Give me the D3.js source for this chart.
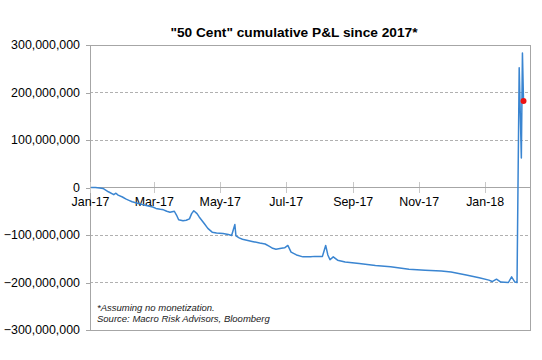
<!DOCTYPE html>
<html>
<head>
<meta charset="utf-8">
<script src="https://cdn.jsdelivr.net/npm/d3@7"></script>
<style>
  html, body { margin: 0; padding: 0; background: #fff; }
  svg { display: block; }
</style>
</head>
<body>
<svg id="chart" width="542" height="360"></svg>
<script>
// ---- data (values in millions of USD) ----
const title = "\"50 Cent\" cumulative P&L since 2017*";
const footnotes = ["*Assuming no monetization.", "Source: Macro Risk Advisors, Bloomberg"];
const dates = [
  "2017-01-02","2017-01-06","2017-01-10","2017-01-13","2017-01-18","2017-01-23","2017-01-25","2017-01-27",
  "2017-01-31","2017-02-03","2017-02-06","2017-02-09","2017-02-14","2017-02-17","2017-02-22","2017-02-28",
  "2017-03-03","2017-03-07","2017-03-10","2017-03-13","2017-03-16","2017-03-20","2017-03-22","2017-03-24",
  "2017-03-28","2017-03-31","2017-04-03","2017-04-05","2017-04-07","2017-04-10","2017-04-12","2017-04-17",
  "2017-04-20","2017-04-24","2017-04-28","2017-05-04","2017-05-09","2017-05-12","2017-05-15","2017-05-16",
  "2017-05-19","2017-05-22","2017-05-26","2017-06-01","2017-06-07","2017-06-12","2017-06-16","2017-06-19",
  "2017-06-22","2017-06-27","2017-06-30","2017-07-03","2017-07-06","2017-07-11","2017-07-17","2017-07-24",
  "2017-07-28","2017-08-04","2017-08-07","2017-08-09","2017-08-11","2017-08-14","2017-08-18","2017-08-25",
  "2017-09-07","2017-09-22","2017-10-06","2017-10-23","2017-11-07","2017-11-22","2017-12-01","2017-12-08",
  "2017-12-15","2017-12-27","2018-01-05","2018-01-08","2018-01-12","2018-01-16","2018-01-23","2018-01-26",
  "2018-01-29","2018-01-31","2018-02-02","2018-02-04","2018-02-05","2018-02-06"
];
const pnl = [
  0, 0, -1, -2, -9, -15, -12, -16,
  -20, -24, -27, -30, -33, -35, -38, -41,
  -44, -46, -47, -50, -52, -50, -58, -68,
  -70, -69, -66, -55, -49, -55, -62, -77,
  -86, -94, -96, -97, -99, -101, -78, -102,
  -106, -109, -111, -114, -117, -119, -124, -128,
  -130, -128, -127, -122, -136, -142, -146, -146,
  -145, -145, -122, -142, -152, -146, -153, -157,
  -160, -164, -167, -172, -174, -176, -178, -181,
  -184, -190, -195, -198, -193, -199, -200, -188,
  -199, -200, 252, 62, 283, 182
];
const yTicks = [-300, -200, -100, 0, 100, 200, 300];
const xTickDates = ["2017-01-01","2017-03-01","2017-05-01","2017-07-01","2017-09-01","2017-11-01","2018-01-01"];
const xDomain = ["2017-01-01", "2018-02-12"];

// ---- layout ----
const svg = d3.select("#chart");
const m = { left: 90, right: 530, top: 45, bottom: 330 };
const parse = d3.utcParse("%Y-%m-%d");
const data = dates.map((d, i) => ({ date: parse(d), v: pnl[i] }));

const x = d3.scaleUtc().domain(xDomain.map(parse)).range([m.left, m.right]);
const y = d3.scaleLinear().domain([-300, 300]).range([m.bottom, m.top]);

const font = "'Liberation Sans', Arial, sans-serif";
const gridColor = "#a6a6a6";

// gridlines (dashed)
svg.append("g").selectAll("line")
  .data(yTicks.filter(t => t !== 0 && Math.abs(t) !== 300))
  .join("line")
  .attr("x1", m.left).attr("x2", m.right)
  .attr("y1", d => y(d)).attr("y2", d => y(d))
  .attr("stroke", "#b0b0b0").attr("stroke-width", 1)
  .attr("stroke-dasharray", "3,2")
  .attr("shape-rendering", "crispEdges");

// plot border (top, right, bottom)
svg.append("path")
  .attr("d", `M${m.left},${y(300)}H${m.right}V${y(-300)}H${m.left}`)
  .attr("fill", "none").attr("stroke", gridColor).attr("stroke-width", 1)
  .attr("shape-rendering", "crispEdges");

// y axis
const yAxis = d3.axisLeft(y).tickValues(yTicks).tickSize(4).tickPadding(6)
  .tickFormat(d => d3.format(",")(d * 1e6));
const gy = svg.append("g").attr("transform", `translate(${m.left},0)`).call(yAxis);
gy.select(".domain").attr("stroke", gridColor).attr("shape-rendering", "crispEdges");
gy.selectAll(".tick line").attr("stroke", gridColor).attr("shape-rendering", "crispEdges");
gy.selectAll("text").attr("font-family", font).attr("font-size", "12.4px").attr("fill", "#000");

// x axis at zero
const xAxis = d3.axisBottom(x).tickValues(xTickDates.map(parse)).tickSize(0)
  .tickFormat(d3.utcFormat("%b-%y"));
const gx = svg.append("g").attr("transform", `translate(0,${y(0)})`).call(xAxis);
gx.select(".domain").remove();
gx.selectAll(".tick line").remove();
gx.selectAll(".tick").append("line")
  .attr("y1", -6).attr("y2", 5)
  .attr("stroke", "#c8c8c8").attr("shape-rendering", "crispEdges");
gx.selectAll("text").attr("font-family", font).attr("font-size", "12.4px").attr("fill", "#000")
  .attr("y", 10).attr("dy", "0.71em");
svg.append("line")
  .attr("x1", m.left).attr("x2", m.right).attr("y1", y(0)).attr("y2", y(0))
  .attr("stroke", gridColor).attr("shape-rendering", "crispEdges");

// line
const line = d3.line().x(d => x(d.date)).y(d => y(d.v));
svg.append("path").datum(data)
  .attr("d", line)
  .attr("fill", "none")
  .attr("stroke", "#3a85d1")
  .attr("stroke-width", 1.5)
  .attr("stroke-linejoin", "round");

// last point marker
const last = data[data.length - 1];
svg.append("circle")
  .attr("cx", x(last.date)).attr("cy", y(last.v)).attr("r", 3)
  .attr("fill", "#ee1111");

// title
svg.append("text")
  .attr("x", 294).attr("y", 37)
  .attr("text-anchor", "middle")
  .attr("font-family", font).attr("font-size", "13.7px").attr("font-weight", "bold")
  .text(title);

// footnotes
svg.append("g").selectAll("text").data(footnotes).join("text")
  .attr("x", 97).attr("y", (d, i) => 311 + i * 11)
  .attr("font-family", font).attr("font-size", "9.5px").attr("font-style", "italic")
  .attr("fill", "#222")
  .text(d => d);
</script>
</body>
</html>
